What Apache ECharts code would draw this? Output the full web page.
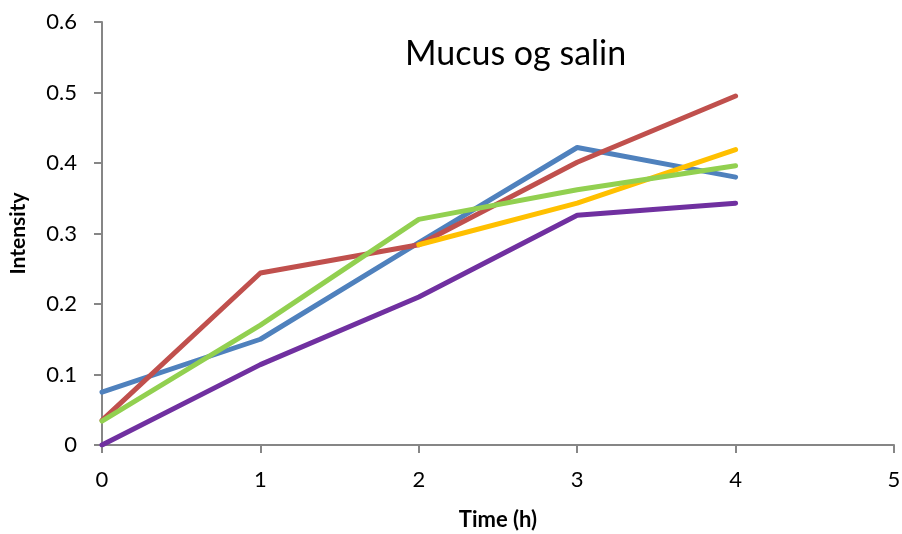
<!DOCTYPE html>
<html>
<head>
<meta charset="utf-8">
<script src="https://cdn.jsdelivr.net/npm/echarts@6/dist/echarts.min.js"></script>
<style>html,body{margin:0;padding:0;background:#fff}#c{width:902px;height:534px}</style>
</head>
<body>
<div id="c"></div>
<script>
const titleText = 'Mucus og salin';
const xName = 'Time (h)';
const yName = 'Intensity';
const times = [0, 1, 2, 3, 4];
const blue   = [0.075, 0.150, 0.287, 0.422, 0.380];
const red    = [0.035, 0.244, 0.284, 0.401, 0.495];
const yellow = [null, null, 0.284, 0.343, 0.419];
const green  = [0.034, 0.170, 0.320, 0.362, 0.396];
const purple = [0.000, 0.114, 0.210, 0.326, 0.343];

const seriesList = [
  { values: blue, color: '#4F81BD' },
  { values: red, color: '#C0504D' },
  { values: yellow, color: '#FFC000' },
  { values: green, color: '#92D050' },
  { values: purple, color: '#7030A0' }
];

const font = 'Lato, "Open Sans", sans-serif';
const chart = echarts.init(document.getElementById('c'), null, { renderer: 'canvas' });
chart.setOption({
  animation: false,
  backgroundColor: '#fff',
  title: {
    text: titleText,
    left: 400, top: 32,
    textStyle: { fontFamily: font, fontSize: 34, fontWeight: 'normal', color: '#000' }
  },
  grid: { left: 102, right: 8, top: 22, bottom: 89, outerBoundsMode: 'none', containLabel: false },
  xAxis: {
    type: 'value', min: 0, max: 5, interval: 1,
    name: xName, nameLocation: 'middle', nameGap: 64,
    nameTextStyle: { fontFamily: font, fontSize: 22, fontWeight: 'bold', color: '#000' },
    axisLine: { lineStyle: { color: '#868686', width: 2 } },
    axisTick: { show: true, length: 8, lineStyle: { color: '#868686', width: 2 } },
    axisLabel: { fontFamily: font, fontSize: 22, color: '#000', margin: 24 },
    splitLine: { show: false }
  },
  yAxis: {
    type: 'value', min: 0, max: 0.6, interval: 0.1,
    name: yName, nameLocation: 'middle', nameGap: 73,
    nameTextStyle: { fontFamily: font, fontSize: 21, fontWeight: 'bold', color: '#000' },
    axisLine: { show: true, lineStyle: { color: '#868686', width: 2 } },
    axisTick: { show: true, length: 8, lineStyle: { color: '#868686', width: 2 } },
    axisLabel: { fontFamily: font, fontSize: 22, color: '#000', margin: 25 },
    splitLine: { show: false }
  },
  series: seriesList.map(s => ({
    type: 'line',
    data: times.map((t, i) => [t, s.values[i]]),
    showSymbol: false,
    symbol: 'none',
    connectNulls: false,
    lineStyle: { color: s.color, width: 5, cap: 'round', join: 'round' },
    itemStyle: { color: s.color }
  }))
});
</script>
</body>
</html>
